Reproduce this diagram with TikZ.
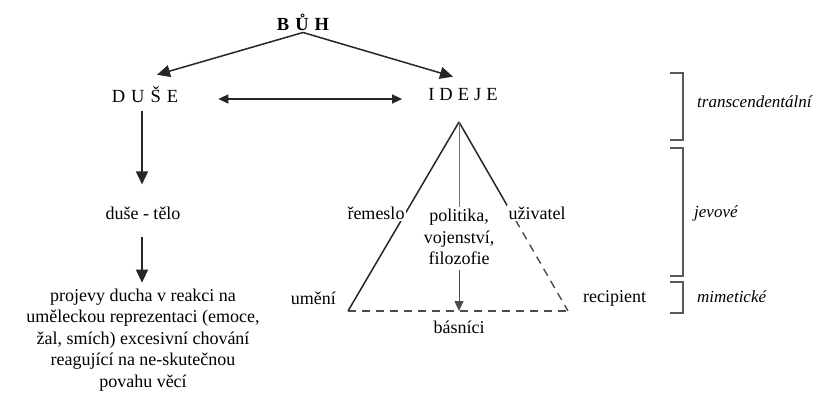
\documentclass[tikz,border=0pt]{standalone}
\usepackage{fontspec}
\setmainfont{Liberation Serif}
\usetikzlibrary{arrows.meta,calc}
\begin{document}
\begin{tikzpicture}[x=1pt,y=-1pt,
  txt/.style={inner sep=2pt,font=\fontsize{18}{21.5}\selectfont},
  caps/.style={inner sep=2pt,font=\fontsize{18.5}{21.5}\selectfont},
  side/.style={inner sep=0pt,anchor=west,font=\fontsize{17}{20}\selectfont\itshape},
  arr/.style={draw=black!85,line width=1.5pt,-{Triangle[length=13pt,width=12pt]}},
  darr/.style={draw=black!85,line width=1.3pt,{Triangle[length=10pt,width=9pt]}-{Triangle[length=10pt,width=9pt]}},
  edge/.style={draw=black!85,line width=1.5pt},
  dedge/.style={draw=black!70,line width=1.4pt,dash pattern=on 8pt off 6pt},
  brack/.style={draw=black!65,line width=1.6pt},
  lab/.style={txt,fill=white}]
\useasboundingbox (0,0) rectangle (825,399);
% top nodes
\node[caps,font=\fontsize{18.5}{21.5}\selectfont\bfseries] (buh) at (303,22) {B\hspace{6pt}Ů\hspace{6pt}H};
\node[caps] (duse) at (145,95) {D\hspace{6pt}U\hspace{6pt}Š\hspace{6pt}E};
\node[caps] (ideje) at (463,95) {I\hspace{5pt}D\hspace{5pt}E\hspace{5pt}J\hspace{5pt}E};
\draw[arr] (buh.south) -- ([xshift=12pt,yshift=10pt]duse.north);
\draw[arr] (buh.south) -- ([xshift=-10pt,yshift=10pt]ideje.north);
\draw[darr] ([xshift=38pt,yshift=-4pt]duse.east) -- ([xshift=-24pt,yshift=-4pt]ideje.west);
% left column
\node[txt] (telo) at (143,213) {duše - tělo};
\node[txt,align=center] (projevy) at (143,340) {projevy ducha v reakci na\\uměleckou reprezentaci (emoce,\\žal, smích) excesivní chování\\reagující na ne-skutečnou\\povahu věcí};
\draw[arr] ([xshift=-3pt,yshift=-6pt]duse.south) -- ([xshift=-1pt,yshift=20pt]telo.north);
\draw[arr] ([xshift=-1pt,yshift=-15pt]telo.south) -- ([xshift=-1pt,yshift=4pt]projevy.north);
% triangle
\coordinate (apex) at (459,122);
\coordinate (lb) at (348,311);
\coordinate (rb) at (568,311);
\coordinate (bm) at (459,311);
\draw[edge] (apex) -- (lb);
\draw[edge] (apex) -- ($(apex)!0.48!(rb)$);
\draw[dedge] ($(apex)!0.52!(rb)$) -- (rb);
\draw[dedge] (lb) -- (rb);
\node[lab] (remeslo) at (376,213) {řemeslo};
\node[lab] (uzivatel) at (537,213) {uživatel};
\node[txt,align=center] (politika) at (459,237) {politika,\\vojenství,\\filozofie};
\draw[draw=black!55,line width=1pt] (apex) -- (politika.north);
\draw[draw=black!70,line width=1pt,-{Triangle[length=10pt,width=9pt]}] ([yshift=-3pt]politika.south) -- (bm);
\node[txt,anchor=east] (umeni) at (338,298) {umění};
\node[txt,anchor=west] (recipient) at (581,298) {recipient};
\node[txt] (basnici) at (459,327) {básníci};
% brackets
\draw[brack] (670,73) -- (683,73) -- (683,140) -- (670,140);
\draw[brack] (670,148) -- (683,148) -- (683,276) -- (670,276);
\draw[brack] (670,282) -- (683,282) -- (683,313) -- (670,313);
\node[side] (trans) at (697,102) {transcendentální};
\node[side] (jev) at (694,213) {jevové};
\node[side] (mim) at (697,297) {mimetické};
\end{tikzpicture}
\end{document}
